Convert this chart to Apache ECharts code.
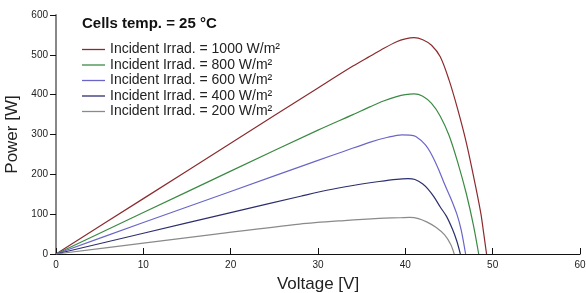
<!DOCTYPE html>
<html>
<head>
<meta charset="utf-8">
<script src="https://cdn.jsdelivr.net/npm/echarts@6/dist/echarts.min.js"></script>
<style>
  html, body { margin: 0; padding: 0; background: #fff; }
  #main { width: 586px; height: 293px; }
</style>
</head>
<body>
<div id="main"></div>
<script>
// valeurs (tension en V, puissance en W)
var v1000 = [0, 10, 20, 30, 34, 36, 37.5, 39, 40, 41, 42, 43, 44, 45, 46, 47, 48, 48.7, 49.3]
var p1000 = [0, 139, 278, 417, 472, 497, 516, 533, 540, 543, 538, 524, 495, 437, 363, 278, 175, 95, 0]

var v800 = [0, 10, 20, 30, 34, 36, 37.5, 39, 40, 41, 42, 43, 44, 45, 46, 47, 47.8, 48.4]
var p800 = [0, 104, 208, 311, 350, 370, 384, 395, 400, 402, 396, 378, 346, 298, 230, 150, 72, 0]

var v600 = [0, 10, 20, 30, 33, 36, 38, 39.6, 40.5, 41.2, 42.3, 43, 43.8, 44.5, 45.2, 45.9, 46.4, 46.9]
var p600 = [0, 79, 157, 235, 258, 281, 293, 299, 298.5, 295, 274, 250, 213, 175, 140, 100, 60, 0]

var v400 = [0, 10, 20, 28, 31, 34, 37, 39, 40.3, 41.1, 42, 42.6, 43.3, 44, 44.7, 45.4, 45.9, 46.3]
var p400 = [0, 52, 104, 145, 160, 172, 182, 187.5, 189, 187, 176, 163, 143, 118, 95, 62, 32, 0]

var v200 = [0, 10, 18.3, 27.9, 33, 37, 39.4, 40.5, 41.5, 42.5, 43.5, 44.5, 45.2, 45.6]
var p200 = [0, 27.5, 50, 75, 84, 89.5, 91, 92, 89, 80, 67, 48, 24, 0]

var seriesNames = [
  'Incident Irrad. = 1000 W/m²',
  'Incident Irrad. = 800 W/m²',
  'Incident Irrad. = 600 W/m²',
  'Incident Irrad. = 400 W/m²',
  'Incident Irrad. = 200 W/m²'
]
var colors = ['#8b2b2e', '#3b8a43', '#6a66c8', '#2c2f6e', '#8a8a8a']

function pairs (xs, ys) {
  return xs.map(function (x, i) { return [x, ys[i]] })
}

var curves = [
  pairs(v1000, p1000),
  pairs(v800, p800),
  pairs(v600, p600),
  pairs(v400, p400),
  pairs(v200, p200)
]

var myChart = echarts.init(document.getElementById('main'))

myChart.setOption({
  animation: false,
  title: {
    text: 'Cells temp. = 25 °C',
    left: 77,
    top: 11,
    textStyle: { fontFamily: 'Liberation Sans', fontSize: 15, fontWeight: 'bold', color: '#111' }
  },
  legend: {
    orient: 'vertical',
    left: 77,
    top: 37,
    icon: 'rect',
    itemWidth: 23,
    itemHeight: 1.3,
    itemGap: 0.5,
    textStyle: { fontFamily: 'Liberation Sans', fontSize: 14, lineHeight: 15, color: '#222' },
    data: seriesNames
  },
  grid: { left: 56, right: 6, top: 15, bottom: 39, outerBoundsMode: 'none' },
  xAxis: {
    type: 'value',
    min: 0,
    max: 60,
    interval: 10,
    name: 'Voltage [V]',
    nameLocation: 'middle',
    nameGap: 22,
    nameTextStyle: { fontFamily: 'Liberation Sans', fontSize: 17, color: '#222' },
    axisLine: { lineStyle: { color: '#111', width: 1.2 } },
    axisTick: { inside: true, length: 6, lineStyle: { color: '#111' } },
    axisLabel: { fontFamily: 'Liberation Sans', fontSize: 10, color: '#222', margin: 6 },
    splitLine: { show: false }
  },
  yAxis: {
    type: 'value',
    min: 0,
    max: 600,
    interval: 100,
    name: 'Power [W]',
    nameLocation: 'middle',
    nameGap: 34,
    nameTextStyle: { fontFamily: 'Liberation Sans', fontSize: 17, color: '#222' },
    axisLine: { show: true, lineStyle: { color: '#888', width: 2 } },
    axisTick: { show: true, length: 6, lineStyle: { color: '#111' } },
    axisLabel: { fontFamily: 'Liberation Sans', fontSize: 10, color: '#222', margin: 8 },
    splitLine: { show: false }
  },
  series: curves.map(function (d, i) {
    return {
      name: seriesNames[i],
      type: 'line',
      data: d,
      symbol: 'none',
      smooth: 0.3,
      lineStyle: { color: colors[i], width: 1.2 },
      itemStyle: { color: colors[i] }
    }
  })
})
</script>
</body>
</html>
